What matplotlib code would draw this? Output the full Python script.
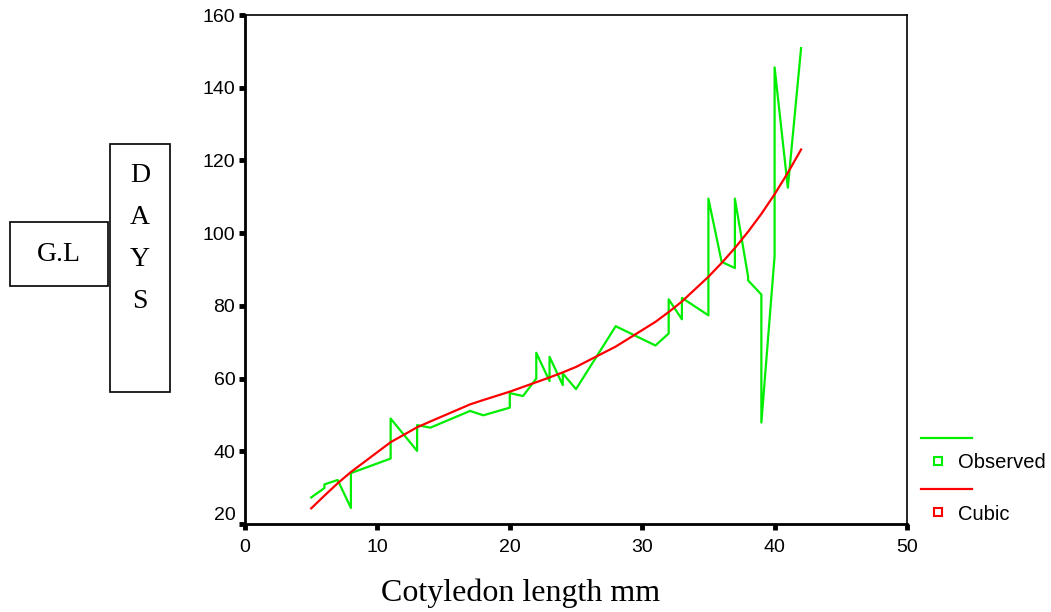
import matplotlib.pyplot as plt
from matplotlib.lines import Line2D
from matplotlib.patches import Rectangle

# cotyledon length (mm) vs days, observed values in plotting order
obs_x = [5, 6, 6, 7, 8, 8, 11, 11, 13, 13, 14, 17, 18, 20, 20, 21, 22, 22, 23, 23,
         24, 24, 25, 28, 31, 32, 32, 33, 33, 35, 35, 36, 37, 37, 38, 38, 39, 39,
         40, 40, 41, 42]
obs_y = [27.3, 29.9, 30.9, 32.1, 24.4, 34.0, 38.0, 49.0, 40.1, 47.2, 46.5, 51.1, 49.9,
         52.0, 56.0, 55.2, 60.0, 67.1, 59.3, 66.0, 58.2, 61.4, 57.1, 74.4, 69.1, 72.4,
         81.8, 76.3, 82.2, 77.4, 109.5, 92.1, 90.4, 109.5, 88.0, 87.0, 83.1, 47.9,
         93.7, 145.6, 112.5, 150.9]

# cubic fit values
cub_x = [5, 6, 7, 8, 11, 13, 14, 17, 18, 20, 21, 22, 23, 24, 25, 28, 31, 32, 33,
         35, 36, 37, 38, 39, 40, 41, 42]
cub_y = [24.3, 27.8, 31.2, 34.3, 42.5, 46.6, 48.2, 52.9, 54.1, 56.4, 57.7, 59.0, 60.3,
         61.7, 63.2, 68.8, 75.6, 78.3, 81.2, 88.0, 91.8, 95.9, 100.4, 105.3, 110.7,
         116.6, 123.0]

W, H = 1051, 612
fig = plt.figure(figsize=(W/100, H/100), dpi=100)
ax = fig.add_axes([245/W, 1-524/H, (907-245)/W, (524-15)/H])

green = '#00ee00'
red = '#ff0000'
ax.plot(obs_x, obs_y, color=green, lw=1.6, zorder=3)
ax.plot(cub_x, cub_y, color=red, lw=1.6, zorder=4)

ax.set_xlim(0, 50)
ax.set_ylim(20, 160)
ax.set_xticks([0, 10, 20, 30, 40, 50])
ax.set_yticks([20, 40, 60, 80, 100, 120, 140, 160])

tick_font = 'Liberation Sans'
for lab in ax.get_xticklabels() + ax.get_yticklabels():
    lab.set_fontfamily(tick_font)
    lab.set_fontsize(14)
ax.get_yticklabels()[0].set_va('bottom')

ax.tick_params(direction='out', length=4, width=3.5)
ax.tick_params(axis='x', pad=7)
ax.tick_params(axis='y', pad=3)
for s in ['left', 'bottom']:
    ax.spines[s].set_linewidth(2)
for s in ['top', 'right']:
    ax.spines[s].set_linewidth(1.2)

fig.text(521/W, 1-593/H, 'Cotyledon length mm', family='Liberation Serif',
         fontsize=23, ha='center', va='center')

# y-axis title boxes
fig.add_artist(Rectangle((10/W, 1-286/H), 98/W, 64/H, transform=fig.transFigure,
                         fill=False, lw=1.2, ec='black'))
fig.text(59/W, 1-254/H, 'G.L', family='Liberation Serif', fontsize=20,
         ha='center', va='center')
fig.add_artist(Rectangle((110/W, 1-392/H), 60/W, 248/H, transform=fig.transFigure,
                         fill=False, lw=1.2, ec='black'))
for letter, py in zip('DAYS', [175, 217, 259, 302]):
    fig.text(140/W, 1-py/H, letter, family='Liberation Serif', fontsize=20,
             ha='center', va='center')

# legend
for col, ly, label in [(green, 438, 'Observed'), (red, 489, 'Cubic')]:
    fig.add_artist(Line2D([921/W, 972/W], [1-ly/H, 1-ly/H], transform=fig.transFigure,
                          color=col, lw=1.6))
    fig.add_artist(Line2D([938/W], [1-(ly+23)/H], transform=fig.transFigure,
                          marker='s', ms=5.5, mfc='none', mec=col, mew=1.5, ls='none'))
    fig.text(958/W, 1-(ly+25)/H, label, family=tick_font, fontsize=14.5,
             ha='left', va='center')

fig.savefig('out.png', dpi=100)
